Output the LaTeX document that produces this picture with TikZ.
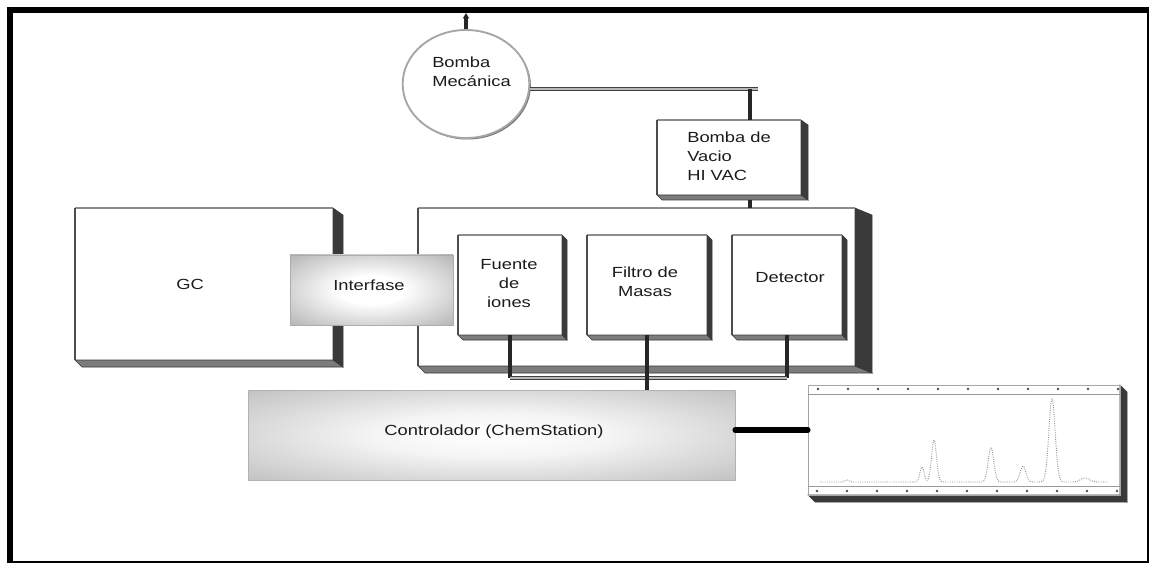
\documentclass[tikz,border=0pt]{standalone}
\usepackage{fontspec}
\setmainfont{Liberation Sans}[FakeStretch=1.25]
\usetikzlibrary{shapes.geometric,arrows.meta,fit}
\definecolor{shdark}{HTML}{3A3A3A}
\definecolor{shmid}{HTML}{7C7C7C}
\definecolor{edgegray}{HTML}{8C8C8C}
\definecolor{txtc}{HTML}{1C1C1C}
\definecolor{padgray}{HTML}{A8A8A8}
\definecolor{ctlgray}{HTML}{B4B4B4}

\pgfdeclareradialshading{padshade}{\pgfpoint{0bp}{0bp}}{color(0bp)=(white); color(10bp)=(white); color(40bp)=(padgray); color(50bp)=(padgray)}
\pgfdeclareradialshading{ctlshade}{\pgfpoint{0bp}{0bp}}{color(0bp)=(white); color(12bp)=(white!96!black); color(42bp)=(ctlgray); color(50bp)=(ctlgray)}

% faces of a bevelled box: node, right depth, bottom depth, right face colour, bottom face colour
\newcommand\bevelfaces[5]{%
  \fill[#5,draw=shdark,line width=0.4pt] (#1.south west) -- (#1.south east) -- ([shift={(#2,#3)}]#1.south east) -- ([shift={(#3,#3)}]#1.south west) -- cycle;
  \fill[#4,draw=shdark,line width=0.4pt] (#1.north east) -- ([shift={(#2,#3)}]#1.north east) -- ([shift={(#2,#3)}]#1.south east) -- (#1.south east) -- cycle;
}
\newcommand\frontedges[1]{%
  \draw[edgegray,line width=0.9pt] (#1.north west) -- (#1.north east);
  \draw[black!70,line width=1.8pt] (#1.south west) -- (#1.north west);
}

\begin{document}
\begin{tikzpicture}[x=0.75pt,y=-0.75pt,
  front/.style={inner sep=0pt,outer sep=0pt,fill=white,draw=none},
  lbl/.style={font=\fontsize{11}{14.25}\selectfont,text=txtc,inner sep=0pt,align=center},
  vpipe/.style={draw=black!85,line width=2.3pt},
  hpipe/.style={draw=black!75,line width=0.6pt,double=gray!55,double distance=1.3pt},
  thickcon/.style={draw=black,line width=3.8pt,line cap=round},
  padbox/.style={inner sep=0pt,outer sep=0pt,draw=gray!65,line width=0.5pt,shading=padshade}]
\useasboundingbox (0,0) rectangle (1150,563);
\fill[white] (0,0) rectangle (1150,563);

% outer frame
\fill[black] (7,7) rectangle (1149,13);
\fill[black] (7,7) rectangle (13,563);
\draw[black,line width=1.2pt] (1148,13) -- (1148,562) -- (13,562);

% GC
\node[front,fit={(75,208) (333,360)}] (gc) {};
\bevelfaces{gc}{10}{7}{shdark}{shmid}
\frontedges{gc}
\node[lbl] (gct) at (190,284) {GC};

% MS housing
\node[front,fit={(418,208) (855,366)}] (ms) {};
\bevelfaces{ms}{17}{7}{shdark}{shmid}
\frontedges{ms}

% inner boxes
\node[front,fit={(458,235) (562,335)}] (fu) {};
\bevelfaces{fu}{5}{5}{shdark}{shmid}
\frontedges{fu}
\node[lbl] (fut) at (509,284) {Fuente\\de\\iones};

\node[front,fit={(587,235) (707,335)}] (fi) {};
\bevelfaces{fi}{5}{5}{shdark}{shmid}
\frontedges{fi}
\node[lbl] (fit) at (645,282) {Filtro de\\Masas};

\node[front,fit={(732,235) (842,335)}] (de) {};
\bevelfaces{de}{5}{5}{shdark}{shmid}
\frontedges{de}
\node[lbl] (det) at (790,278) {Detector};

% Interfase
\node[padbox,fit={(290,255) (453,325)}] (if) {};
\node[lbl] (ift) at (369,285) {Interfase};

% Bomba de vacio
\node[front,fit={(657,120) (801,195)}] (bv) {};
\bevelfaces{bv}{7}{5}{shdark}{shmid}
\frontedges{bv}
\node[lbl,align=left,anchor=west] (bvt) at (687,156) {Bomba de\\Vacio\\HI VAC};

% Bomba mecanica
\node[ellipse,minimum width=95pt,minimum height=81pt,fill=black!55,inner sep=0pt] (bmsh) at (467.5,85.5) {};
\node[ellipse,minimum width=95pt,minimum height=81pt,fill=white,draw=gray!70,line width=1.4pt,inner sep=0pt] (bm) at (466,84) {};
\node[lbl,align=left,anchor=west] (bmt) at (432,72) {Bomba\\Mecánica};

% connectors
\coordinate (topa) at (466,13);
\draw[vpipe,-{Triangle[length=4pt,width=4.5pt]}] (bm.north) -- (topa);
\coordinate (j1) at (750,89);
\coordinate (j1e) at (758,89);
\draw[hpipe] (bm.east |- j1) -- (j1e);
\draw[vpipe] (j1) -- (j1 |- bv.north);
\draw[vpipe] ([yshift=-3.75pt]j1 |- bv.south) -- (j1 |- ms.north);

% Controlador
\node[inner sep=0pt,outer sep=0pt,draw=gray!60,line width=0.5pt,shading=ctlshade,fit={(248,390) (735,480)}] (ctl) {};
\node[lbl] (ctlt) at (494,432) {Controlador (ChemStation)};

\coordinate (bl) at (510,378);
\coordinate (br) at (787,378);
\draw[vpipe] (fu.south) -- (bl);
\draw[vpipe] (de.south) -- (br);
\draw[hpipe] (bl) -- (br);
\draw[vpipe] (fi.south) -- (fi.south |- ctl.north);

% chromatogram
\node[front,fit={(808,385) (1120,495)}] (ch) {};
\bevelfaces{ch}{7}{7}{shdark}{shdark}
\draw[gray!70,line width=0.6pt] (ch.north west) rectangle (ch.south east);
\draw[gray!80,line width=0.6pt] ([yshift=-6.75pt]ch.north west) -- ([yshift=-6.75pt]ch.north east);
\draw[gray!80,line width=0.6pt] ([yshift=6.75pt]ch.south west) -- ([yshift=6.75pt]ch.south east);
\foreach \i in {0,...,10} {
  \fill[black!70] (818+30*\i,389) circle (1.3);
  \fill[black!70] (817+30*\i,491) circle (1.3);
}
\draw[gray!85,densely dotted,line width=0.7pt]
  plot[domain=820:1108,samples=289,smooth] (\x,{482
   -2*exp(-min(((\x-847)/3)^2,20))
   -15*exp(-min(((\x-922)/3)^2,20))
   -42*exp(-min(((\x-934)/3.5)^2,20))
   -34*exp(-min(((\x-991)/4)^2,20))
   -16*exp(-min(((\x-1023)/4)^2,20))
   -83*exp(-min(((\x-1052)/4.5)^2,20))
   -4*exp(-min(((\x-1085)/6)^2,20))});

\coordinate (cy) at (0,430);
\draw[thickcon] (ctl.east |- cy) -- (ch.west |- cy);
\end{tikzpicture}
\end{document}
